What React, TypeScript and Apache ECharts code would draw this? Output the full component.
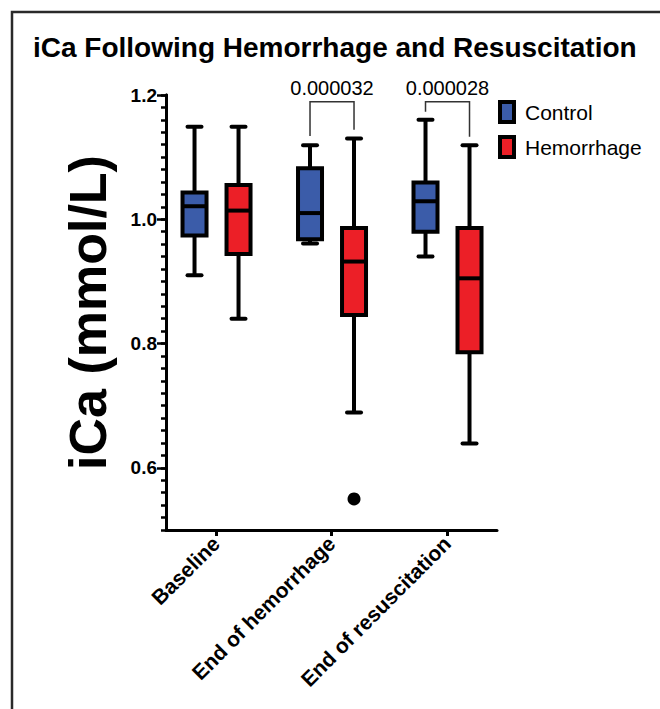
import React, { useEffect, useRef } from 'react';
import * as echarts from 'echarts';

const categories = ['Baseline', 'End of hemorrhage', 'End of resuscitation'];
const seriesNames = ['Control', 'Hemorrhage'];
const seriesColors = ['#3b5ca9', '#ec1f27'];
// [min, Q1, median, Q3, max]
const controlBoxes = [
  [0.91, 0.974, 1.021, 1.043, 1.149],
  [0.961, 0.968, 1.01, 1.082, 1.119],
  [0.94, 0.98, 1.029, 1.059, 1.16],
];
const hemorrhageBoxes = [
  [0.84, 0.944, 1.014, 1.055, 1.149],
  [0.689, 0.846, 0.932, 0.986, 1.13],
  [0.639, 0.786, 0.905, 0.986, 1.119],
];
// [category index, value]
const hemorrhageOutliers = [[1, 0.55]];
const yTickLabels = [0.6, 0.8, 1.0, 1.2];
const pValues = ['0.000032', '0.000028'];
const bracketGroups = [1, 2];
const bracketTops = [1.189, 1.189];
const bracketLeftEnds = [1.134, 1.173];
const bracketRightEnds = [1.144, 1.133];

const FONT = '"Liberation Sans", Arial, Helvetica, sans-serif';
const OFFSETS = [-0.186, 0.195];

function makeBoxRenderer(offset: number, color: string) {
  return (params: any, api: any) => {
    const g = api.value(0) + offset;
    const [cx, yMin] = api.coord([g, api.value(1)]);
    const yQ1 = api.coord([g, api.value(2)])[1];
    const yMed = api.coord([g, api.value(3)])[1];
    const yQ3 = api.coord([g, api.value(4)])[1];
    const yMax = api.coord([g, api.value(5)])[1];
    const hw = 12;
    const cw = 7;
    const ls = { stroke: '#000', lineWidth: 4 };
    const cap = { stroke: '#000', lineWidth: 4, lineCap: 'round' };
    return {
      type: 'group',
      children: [
        { type: 'line', shape: { x1: cx, y1: yMax, x2: cx, y2: yQ3 }, style: ls },
        { type: 'line', shape: { x1: cx, y1: yQ1, x2: cx, y2: yMin }, style: ls },
        { type: 'line', shape: { x1: cx - cw, y1: yMax, x2: cx + cw, y2: yMax }, style: cap },
        { type: 'line', shape: { x1: cx - cw, y1: yMin, x2: cx + cw, y2: yMin }, style: cap },
        {
          type: 'rect',
          shape: { x: cx - hw, y: yQ3, width: hw * 2, height: yQ1 - yQ3 },
          style: { fill: color, stroke: '#000', lineWidth: 4 },
        },
        { type: 'line', shape: { x1: cx - hw, y1: yMed, x2: cx + hw, y2: yMed }, style: ls },
      ],
    };
  };
}

export default function App() {
  const ref = useRef<HTMLDivElement>(null);
  useEffect(() => {
    if (!ref.current) return;
    const chart = echarts.init(ref.current, null, { renderer: 'svg' });
    const boxSets = [controlBoxes, hemorrhageBoxes];
    chart.setOption({
      animation: false,
      backgroundColor: '#fff',
      title: {
        text: 'iCa Following Hemorrhage and Resuscitation',
        left: 33,
        top: 33,
        padding: 0,
        textStyle: { fontSize: 28, fontWeight: 'bold', color: '#000', fontFamily: FONT },
      },
      legend: {
        orient: 'vertical',
        left: 493,
        top: 95,
        icon: 'rect',
        itemWidth: 14,
        itemHeight: 20,
        itemGap: 11,
        itemStyle: { borderColor: '#000', borderWidth: 4 },
        textStyle: { fontSize: 21, color: '#000', fontFamily: FONT, padding: [0, 0, 0, 6] },
        data: seriesNames,
        selectedMode: false,
      },
      graphic: [
        {
          type: 'polyline',
          shape: { points: [[12, 709], [12, 12], [660, 12]] },
          style: { stroke: '#2a2a2a', lineWidth: 2.5, fill: null },
        },
      ],
      grid: { left: 166, right: 163, top: 95, bottom: 179, containLabel: false },
      xAxis: {
        type: 'value',
        min: -0.433,
        max: 2.433,
        axisLine: { show: true, onZero: false, lineStyle: { color: '#000', width: 3 } },
        axisTick: { show: true, customValues: [0, 1, 2], length: 6, lineStyle: { color: '#000', width: 3 } },
        axisLabel: {
          customValues: [0, 1, 2],
          formatter: (v: number) => categories[Math.round(v)] || '',
          rotate: 45,
          fontSize: 21,
          fontWeight: 'bold',
          color: '#000',
          fontFamily: FONT,
          margin: 10,
        },
        splitLine: { show: false },
      },
      yAxis: [
        {
          type: 'value',
          min: 0.5,
          max: 1.2,
          interval: 0.02,
          axisLine: { show: true, onZero: false, lineStyle: { color: '#000', width: 3 } },
          axisTick: { show: true, length: 5, lineStyle: { color: '#000', width: 2.5 } },
          axisLabel: { show: false },
          splitLine: { show: false },
        },
        {
          type: 'value',
          min: 0.5,
          max: 1.2,
          position: 'left',
          axisLine: { show: true, onZero: false, lineStyle: { color: '#000', width: 3 } },
          axisTick: { show: true, customValues: yTickLabels, length: 9, lineStyle: { color: '#000', width: 2.5 } },
          axisLabel: {
            customValues: yTickLabels,
            formatter: (v: number) => v.toFixed(1),
            fontSize: 19,
            fontWeight: 'bold',
            color: '#000',
            fontFamily: FONT,
            margin: 9,
          },
          splitLine: { show: false },
          name: 'iCa (mmol/L)',
          nameLocation: 'middle',
          nameGap: 52,
          nameTextStyle: { fontSize: 52, fontWeight: 'bold', color: '#000', fontFamily: FONT },
        },
      ],
      series: [
        ...seriesNames.map((name, si) => ({
          name,
          type: 'custom',
          xAxisIndex: 0,
          yAxisIndex: 0,
          itemStyle: { color: seriesColors[si] },
          encode: { x: 0, y: [1, 2, 3, 4, 5] },
          data: boxSets[si].map((b, i) => [i, ...b]),
          renderItem: makeBoxRenderer(OFFSETS[si], seriesColors[si]),
          silent: true,
        })),
        {
          name: 'outliers',
          type: 'scatter',
          xAxisIndex: 0,
          yAxisIndex: 0,
          symbolSize: 13,
          itemStyle: { color: '#000', opacity: 1 },
          data: hemorrhageOutliers.map(([g, v]) => [g + OFFSETS[1], v]),
          silent: true,
        },
        {
          name: 'brackets',
          type: 'custom',
          xAxisIndex: 0,
          yAxisIndex: 0,
          encode: { x: 0, y: [1, 2, 3] },
          data: bracketGroups.map((g, i) => [g, bracketTops[i], bracketLeftEnds[i], bracketRightEnds[i]]),
          renderItem: (params: any, api: any) => {
            const g = api.value(0);
            const [xl, yTop] = api.coord([g + OFFSETS[0], api.value(1)]);
            const xr = api.coord([g + OFFSETS[1], api.value(1)])[0];
            const yl = api.coord([g, api.value(2)])[1];
            const yr = api.coord([g, api.value(3)])[1];
            return {
              type: 'group',
              children: [
                {
                  type: 'polyline',
                  shape: { points: [[xl, yl], [xl, yTop], [xr, yTop], [xr, yr]] },
                  style: { stroke: '#333', lineWidth: 1.5, fill: null },
                },
                {
                  type: 'text',
                  x: (xl + xr) / 2,
                  y: yTop - 4,
                  style: {
                    text: pValues[params.dataIndex],
                    fontSize: 20,
                    fill: '#000',
                    align: 'center',
                    verticalAlign: 'bottom',
                    fontFamily: FONT,
                  },
                },
              ],
            };
          },
          silent: true,
        },
      ],
    });
    return () => chart.dispose();
  }, []);
  return (
    <div
      ref={ref}
      style={{ position: 'absolute', left: 0, top: 0, width: 660, height: 709, background: '#fff' }}
    />
  );
}
